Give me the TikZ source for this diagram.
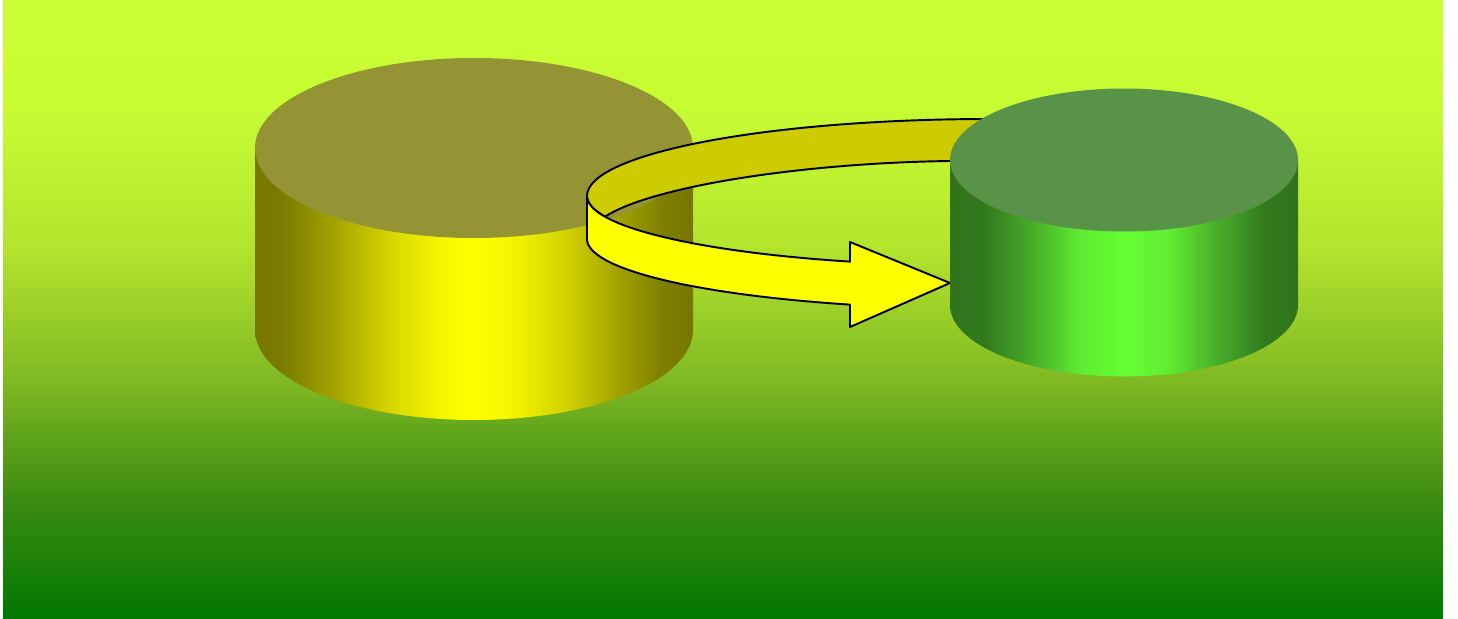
\documentclass[tikz,border=0pt]{standalone}
\usepackage{xcolor}
\usepackage{tikz}

\definecolor{bgTop}{RGB}{204,255,51}
\definecolor{bgA}{RGB}{198,250,50}
\definecolor{bgB}{RGB}{178,228,45}
\definecolor{bgC}{RGB}{128,185,35}
\definecolor{bgD}{RGB}{60,140,18}
\definecolor{bgBottom}{RGB}{0,120,0}
\definecolor{yelTop}{RGB}{148,148,52}
\definecolor{grnTop}{RGB}{88,147,72}
\definecolor{ribbonFlat}{RGB}{204,204,0}
\definecolor{ribbonFront}{RGB}{255,255,0}

\pgfdeclareverticalshading{bgshade}{100bp}{color(0bp)=(bgBottom); color(25bp)=(bgBottom); color(34.6bp)=(bgD); color(44.3bp)=(bgC); color(54.8bp)=(bgB); color(65.3bp)=(bgA); color(75bp)=(bgTop); color(100bp)=(bgTop)}
\pgfdeclarehorizontalshading{yelsideshade}{100bp}{rgb(0bp)=(.471,.471,0); rgb(25bp)=(.471,.471,0); rgb(27.9bp)=(.478,.478,0); rgb(33.6bp)=(.627,.627,0); rgb(41.6bp)=(.871,.871,0); rgb(46.1bp)=(.961,.961,0); rgb(50bp)=(1,1,0); rgb(54.1bp)=(.961,.961,0); rgb(59.8bp)=(.843,.843,0); rgb(66.7bp)=(.627,.627,0); rgb(71.8bp)=(.49,.49,0); rgb(75bp)=(.463,.463,0); rgb(100bp)=(.463,.463,0)}
\pgfdeclarehorizontalshading{grnsideshade}{100bp}{rgb(0bp)=(.184,.451,.106); rgb(25bp)=(.184,.451,.106); rgb(30bp)=(.196,.478,.118); rgb(36.5bp)=(.275,.667,.157); rgb(43.7bp)=(.373,.922,.196); rgb(50bp)=(.4,1,.2); rgb(56.6bp)=(.373,.922,.196); rgb(63.8bp)=(.275,.667,.157); rgb(70.3bp)=(.196,.478,.118); rgb(75bp)=(.184,.451,.106); rgb(100bp)=(.184,.451,.106)}

\begin{document}
\begin{tikzpicture}[
  x=0.02cm, y=-0.02cm,
  ribbon/.style={draw=black, line width=1.1pt, line join=round},
  yelside/.style={shading=yelsideshade},
  grnside/.style={shading=grnsideshade}
]
  \useasboundingbox (0,0) rectangle (1458,619);
  \shade[shading=bgshade] (3,0) rectangle (1443,619);

  % source cylinder
  \coordinate (srctop) at (474,148);
  \shade[yelside] (255,148) -- (255,330) arc[start angle=180, end angle=0, x radius=219, y radius=90] -- (693,148) -- cycle;
  \fill[yelTop] (srctop) ellipse[x radius=219, y radius=90];

  % ribbon arrow
  \coordinate (backtop) at (990,119);
  \coordinate (frontleft) at (587,196);
  \filldraw[ribbon, fill=ribbonFlat] (backtop) arc[start angle=270, end angle=180, x radius=403, y radius=77]
    arc[start angle=180, end angle=162.8, x radius=403, y radius=70]
    .. controls (650,187) and (800,163) .. (950,161) -- (1000,161) -- cycle;
  \filldraw[ribbon, fill=ribbonFront] (frontleft) arc[start angle=180, end angle=110.33, x radius=403, y radius=70]
    -- (850,242) -- (950,283) -- (850,327) -- (850,304.6)
    arc[start angle=110.33, end angle=180, x radius=403, y radius=70] -- cycle;

  % target cylinder
  \coordinate (dsttop) at (1124,160);
  \shade[grnside] (950,160) -- (950,305) arc[start angle=180, end angle=0, x radius=174, y radius=71.5] -- (1298,160) -- cycle;
  \fill[grnTop] (dsttop) ellipse[x radius=174, y radius=71.5];
\end{tikzpicture}
\end{document}
